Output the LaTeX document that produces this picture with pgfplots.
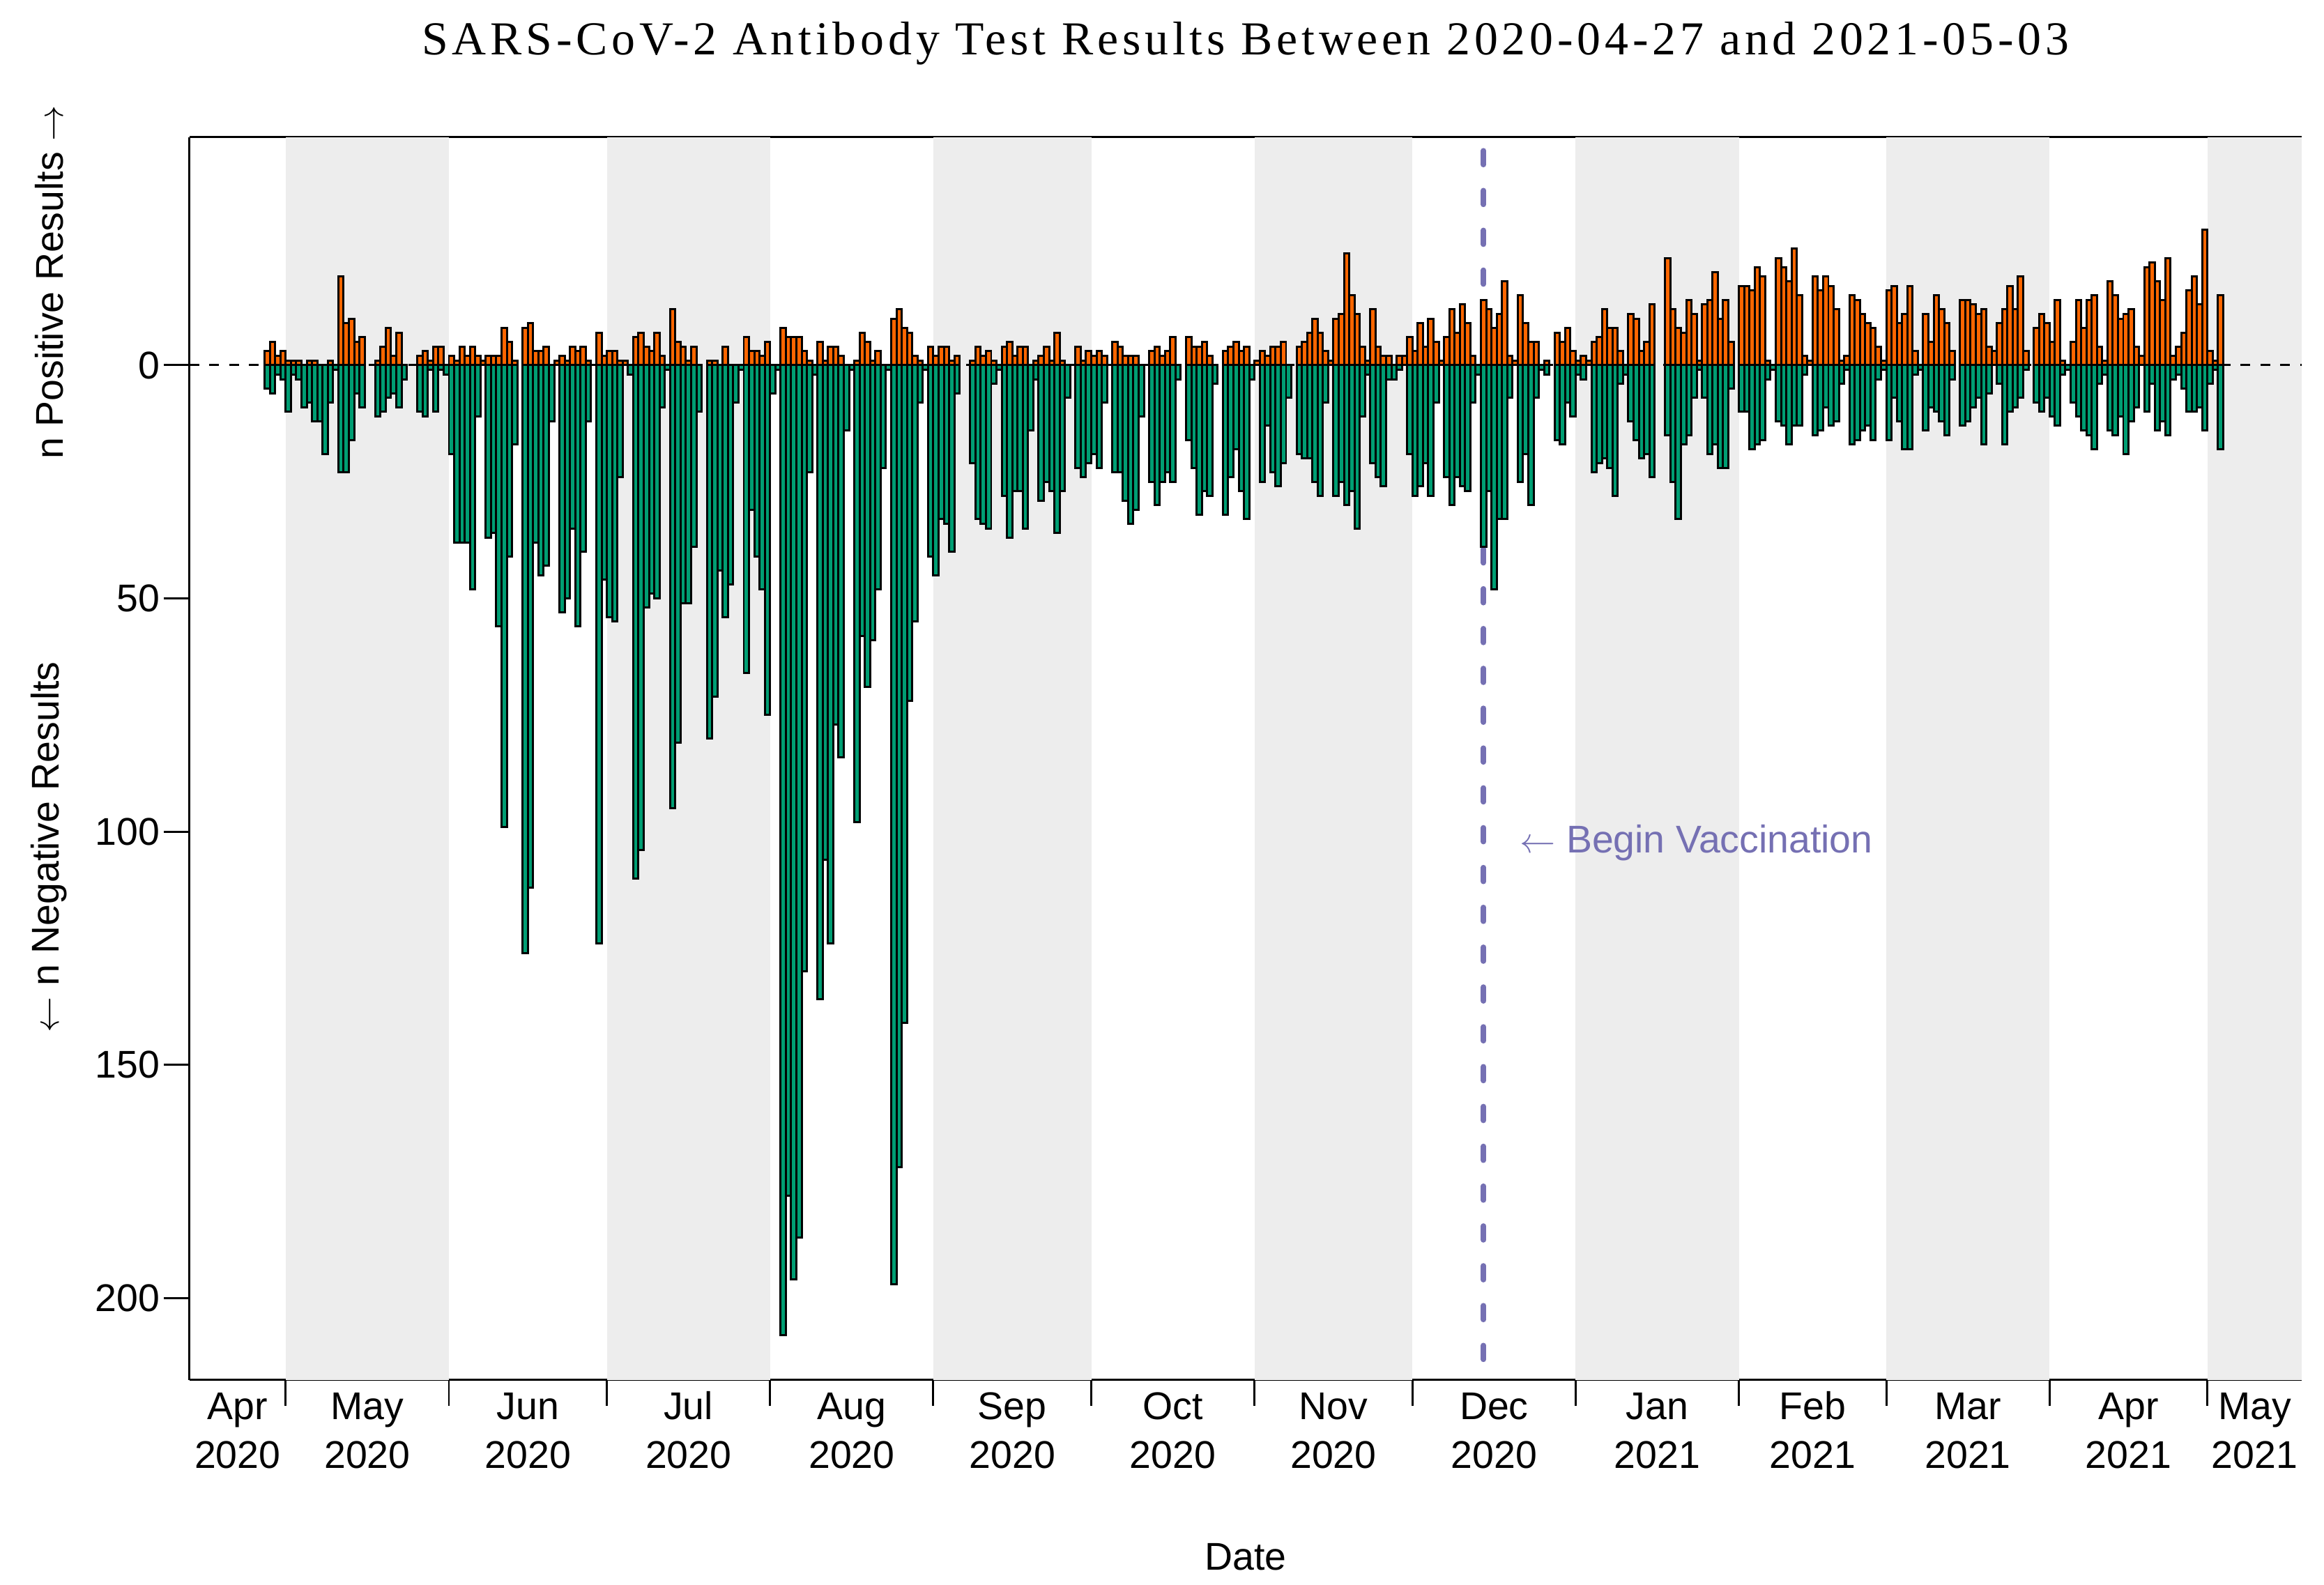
\documentclass[border=0pt]{standalone}
\usepackage{fontspec}
\setmainfont{Liberation Sans}
\newfontfamily\titlefont{Liberation Serif}[LetterSpace=8.6]
\usepackage{pgfplots}
\usepackage{pgfplotstable}
\pgfplotsset{compat=1.18}
\definecolor{posc}{HTML}{FF6600}
\definecolor{negc}{HTML}{009E73}
\definecolor{band}{HTML}{EDEDED}
\definecolor{vacc}{HTML}{7570B3}
\newcommand{\ml}[2]{\begin{tabular}[t]{@{}c@{}}#1\\#2\end{tabular}}
\newcommand{\lf}{\fontsize{13}{16.4}\selectfont}

\pgfplotstableread{
x pos neg
-3.5 3 -5
-2.5 5 -6
-1.5 2 -2
-0.5 3 -3
0.5 1 -10
1.5 1 -2
2.5 1 -3
3.5 0 -9
4.5 1 -8
5.5 1 -12
6.5 0 -12
7.5 0 -19
8.5 1 -8
9.5 0 -1
10.5 19 -23
11.5 9 -23
12.5 10 -16
13.5 5 -6
14.5 6 -9
17.5 1 -11
18.5 4 -10
19.5 8 -7
20.5 2 -6
21.5 7 -9
22.5 0 -3
25.5 2 -10
26.5 3 -11
27.5 1 -1
28.5 4 -10
29.5 4 -1
30.5 0 -2
31.5 2 -19
32.5 1 -38
33.5 4 -38
34.5 2 -38
35.5 4 -48
36.5 2 -11
37.5 1 0
38.5 2 -37
39.5 2 -36
40.5 2 -56
41.5 8 -99
42.5 5 -41
43.5 1 -17
45.5 8 -126
46.5 9 -112
47.5 3 -38
48.5 3 -45
49.5 4 -43
50.5 0 -12
51.5 1 0
52.5 2 -53
53.5 1 -50
54.5 4 -35
55.5 3 -56
56.5 4 -40
57.5 1 -12
59.5 7 -124
60.5 2 -46
61.5 3 -54
62.5 3 -55
63.5 1 -24
64.5 1 0
65.5 0 -2
66.5 6 -110
67.5 7 -104
68.5 4 -52
69.5 3 -49
70.5 7 -50
71.5 2 -9
72.5 0 -1
73.5 12 -95
74.5 5 -81
75.5 4 -51
76.5 1 -51
77.5 4 -39
78.5 0 -10
80.5 1 -80
81.5 1 -71
82.5 0 -44
83.5 4 -54
84.5 0 -47
85.5 0 -8
86.5 0 -1
87.5 6 -66
88.5 3 -31
89.5 3 -41
90.5 2 -48
91.5 5 -75
92.5 0 -6
93.5 0 -1
94.5 8 -208
95.5 6 -178
96.5 6 -196
97.5 6 -187
98.5 3 -130
99.5 1 -23
100.5 0 -2
101.5 5 -136
102.5 1 -106
103.5 4 -124
104.5 4 -77
105.5 2 -84
106.5 0 -14
107.5 0 -1
108.5 1 -98
109.5 7 -58
110.5 5 -69
111.5 1 -59
112.5 3 -48
113.5 0 -22
114.5 0 -1
115.5 10 -197
116.5 12 -172
117.5 8 -141
118.5 7 -72
119.5 2 -55
120.5 1 -8
121.5 0 -1
122.5 4 -41
123.5 2 -45
124.5 4 -33
125.5 4 -34
126.5 1 -40
127.5 2 -6
130.5 1 -21
131.5 4 -33
132.5 2 -34
133.5 3 -35
134.5 1 -4
135.5 0 -1
136.5 4 -28
137.5 5 -37
138.5 2 -27
139.5 4 -27
140.5 4 -35
141.5 0 -14
142.5 1 -3
143.5 2 -29
144.5 4 -25
145.5 1 -27
146.5 7 -36
147.5 1 -27
148.5 0 -7
150.5 4 -22
151.5 1 -24
152.5 3 -21
153.5 2 -19
154.5 3 -22
155.5 2 -8
157.5 5 -23
158.5 4 -23
159.5 2 -29
160.5 2 -34
161.5 2 -31
162.5 0 -11
164.5 3 -25
165.5 4 -30
166.5 2 -25
167.5 3 -23
168.5 6 -25
169.5 0 -3
171.5 6 -16
172.5 4 -22
173.5 4 -32
174.5 5 -27
175.5 2 -28
176.5 0 -4
178.5 3 -32
179.5 4 -24
180.5 5 -18
181.5 3 -27
182.5 4 -33
183.5 0 -3
184.5 1 0
185.5 3 -25
186.5 2 -13
187.5 4 -23
188.5 4 -26
189.5 5 -21
190.5 0 -7
192.5 4 -19
193.5 5 -20
194.5 7 -20
195.5 10 -25
196.5 7 -28
197.5 3 -8
198.5 1 0
199.5 10 -28
200.5 11 -25
201.5 24 -30
202.5 15 -27
203.5 11 -35
204.5 4 -11
205.5 1 -2
206.5 12 -21
207.5 4 -24
208.5 2 -26
209.5 2 -3
210.5 0 -3
211.5 2 -1
212.5 2 0
213.5 6 -19
214.5 3 -28
215.5 9 -26
216.5 4 -21
217.5 10 -28
218.5 5 -8
219.5 1 0
220.5 6 -24
221.5 12 -30
222.5 7 -24
223.5 13 -26
224.5 9 -27
225.5 2 -8
226.5 0 -2
227.5 14 -39
228.5 12 -27
229.5 8 -48
230.5 11 -33
231.5 18 -33
232.5 2 -7
233.5 1 0
234.5 15 -25
235.5 9 -19
236.5 5 -30
237.5 5 -7
238.5 0 -1
239.5 1 -2
241.5 7 -16
242.5 5 -17
243.5 8 -8
244.5 3 -11
245.5 1 -2
246.5 2 -3
247.5 1 0
248.5 5 -23
249.5 6 -21
250.5 12 -20
251.5 8 -22
252.5 8 -28
253.5 3 -4
254.5 0 -2
255.5 11 -12
256.5 10 -16
257.5 3 -20
258.5 5 -19
259.5 13 -24
262.5 23 -15
263.5 12 -25
264.5 8 -33
265.5 7 -17
266.5 14 -15
267.5 11 -7
268.5 1 -1
269.5 13 -7
270.5 14 -19
271.5 20 -17
272.5 10 -22
273.5 14 -22
274.5 5 -5
276.5 17 -10
277.5 17 -10
278.5 16 -18
279.5 21 -17
280.5 19 -16
281.5 1 -3
282.5 0 -1
283.5 23 -12
284.5 21 -13
285.5 18 -17
286.5 25 -13
287.5 15 -13
288.5 2 -2
289.5 1 0
290.5 19 -15
291.5 16 -14
292.5 19 -9
293.5 17 -13
294.5 12 -12
295.5 1 -4
296.5 2 -1
297.5 15 -17
298.5 14 -16
299.5 11 -14
300.5 9 -13
301.5 8 -16
302.5 4 -3
303.5 1 -1
304.5 16 -16
305.5 17 -7
306.5 9 -12
307.5 11 -18
308.5 17 -18
309.5 3 -2
310.5 0 -1
311.5 11 -14
312.5 5 -9
313.5 15 -10
314.5 12 -12
315.5 9 -15
316.5 3 -3
318.5 14 -13
319.5 14 -12
320.5 13 -9
321.5 11 -7
322.5 12 -17
323.5 4 -6
324.5 3 0
325.5 9 -4
326.5 12 -17
327.5 17 -10
328.5 12 -9
329.5 19 -7
330.5 3 -1
332.5 8 -8
333.5 11 -10
334.5 9 -7
335.5 5 -11
336.5 14 -13
337.5 1 -2
338.5 0 -1
339.5 5 -8
340.5 14 -11
341.5 8 -14
342.5 14 -15
343.5 15 -18
344.5 4 -4
345.5 1 -2
346.5 18 -14
347.5 15 -15
348.5 10 -11
349.5 11 -19
350.5 12 -12
351.5 4 -9
352.5 2 0
353.5 21 -10
354.5 22 -4
355.5 18 -14
356.5 14 -12
357.5 23 -15
358.5 2 -3
359.5 4 -2
360.5 7 -5
361.5 16 -10
362.5 19 -10
363.5 13 -9
364.5 29 -14
365.5 3 -4
366.5 1 -1
367.5 15 -18
}\data

\begin{document}
\begin{tikzpicture}
\useasboundingbox (-63.7pt,-68.95pt) rectangle (718.2pt,464.35pt);
\begin{axis}[
  at={(0pt,0pt)}, anchor=south west,
  scale only axis, width=710.7pt, height=418.2pt,
  xmin=-18.3, xmax=382.9, ymin=-217.6, ymax=48.9,
  axis x line*=box, axis y line*=left,
  axis line style={line width=0.7pt, black},
  tick align=outside,
  xtick pos=left, ytick pos=left,
  major tick length=8.6pt,
  tick style={black, line width=0.7pt},
  xtick={0,31,61,92,123,153,184,214,245,276,304,335,365},
  xticklabels={},
  extra x ticks={-9.15,15.5,46,76.5,107.5,138,168.5,199,229.5,260.5,290,319.5,350,373.95},
  extra x tick labels={\ml{Apr}{2020},\ml{May}{2020},\ml{Jun}{2020},\ml{Jul}{2020},\ml{Aug}{2020},\ml{Sep}{2020},\ml{Oct}{2020},\ml{Nov}{2020},\ml{Dec}{2020},\ml{Jan}{2021},\ml{Feb}{2021},\ml{Mar}{2021},\ml{Apr}{2021},\ml{May}{2021}},
  extra x tick style={tick style={draw=none}, xticklabel style={anchor=base, yshift=-4.75pt}},
  ytick={-200,-150,-100,-50,0},
  yticklabels={200,150,100,50,0},
  yticklabel style={anchor=east, inner sep=0pt, xshift=-1.1pt},
  tick label style={font=\lf},
]
% month shading
\addplot[fill=band, draw=none, forget plot] coordinates {(0,-217.6) (31,-217.6) (31,48.9) (0,48.9)} -- cycle;
\addplot[fill=band, draw=none, forget plot] coordinates {(61,-217.6) (92,-217.6) (92,48.9) (61,48.9)} -- cycle;
\addplot[fill=band, draw=none, forget plot] coordinates {(123,-217.6) (153,-217.6) (153,48.9) (123,48.9)} -- cycle;
\addplot[fill=band, draw=none, forget plot] coordinates {(184,-217.6) (214,-217.6) (214,48.9) (184,48.9)} -- cycle;
\addplot[fill=band, draw=none, forget plot] coordinates {(245,-217.6) (276,-217.6) (276,48.9) (245,48.9)} -- cycle;
\addplot[fill=band, draw=none, forget plot] coordinates {(304,-217.6) (335,-217.6) (335,48.9) (304,48.9)} -- cycle;
\addplot[fill=band, draw=none, forget plot] coordinates {(365,-217.6) (396,-217.6) (396,48.9) (365,48.9)} -- cycle;
% zero line
\addplot[black, line width=0.7pt, dash pattern=on 3.3pt off 3.4pt, forget plot] coordinates {(-18.3,0) (382.9,0)};
% vaccination line
\addplot[vacc, line width=1.8pt, line cap=round, dash pattern=on 4.7pt off 8.7pt, forget plot] coordinates {(227.5,46) (227.5,-217.6)};
% bars
\addplot[ybar, bar width=1, bar shift=0pt, fill=posc, draw=black, line width=0.7pt] table[x=x, y=pos]{\data};
\addplot[ybar, bar width=1, bar shift=0pt, fill=negc, draw=black, line width=0.7pt] table[x=x, y=neg]{\data};
\node[anchor=base west, inner sep=0pt, text=vacc, font=\lf] at (axis cs:234.3,-104.5) {$\leftarrow$ Begin Vaccination};
\end{axis}
\node[anchor=base] at (355.35pt,446pt) {\titlefont\fontsize{15.9}{19}\selectfont SARS-CoV-2 Antibody Test Results Between 2020-04-27 and 2021-05-03};
\node[anchor=base, font=\lf] at (355.35pt,-63.9pt) {Date};
\node[rotate=90, font=\lf] at (-47.2pt,369.35pt) {n Positive Results $\rightarrow$};
\node[rotate=90, font=\lf] at (-47.2pt,179.35pt) {$\leftarrow$ n Negative Results};
\end{tikzpicture}
\end{document}
